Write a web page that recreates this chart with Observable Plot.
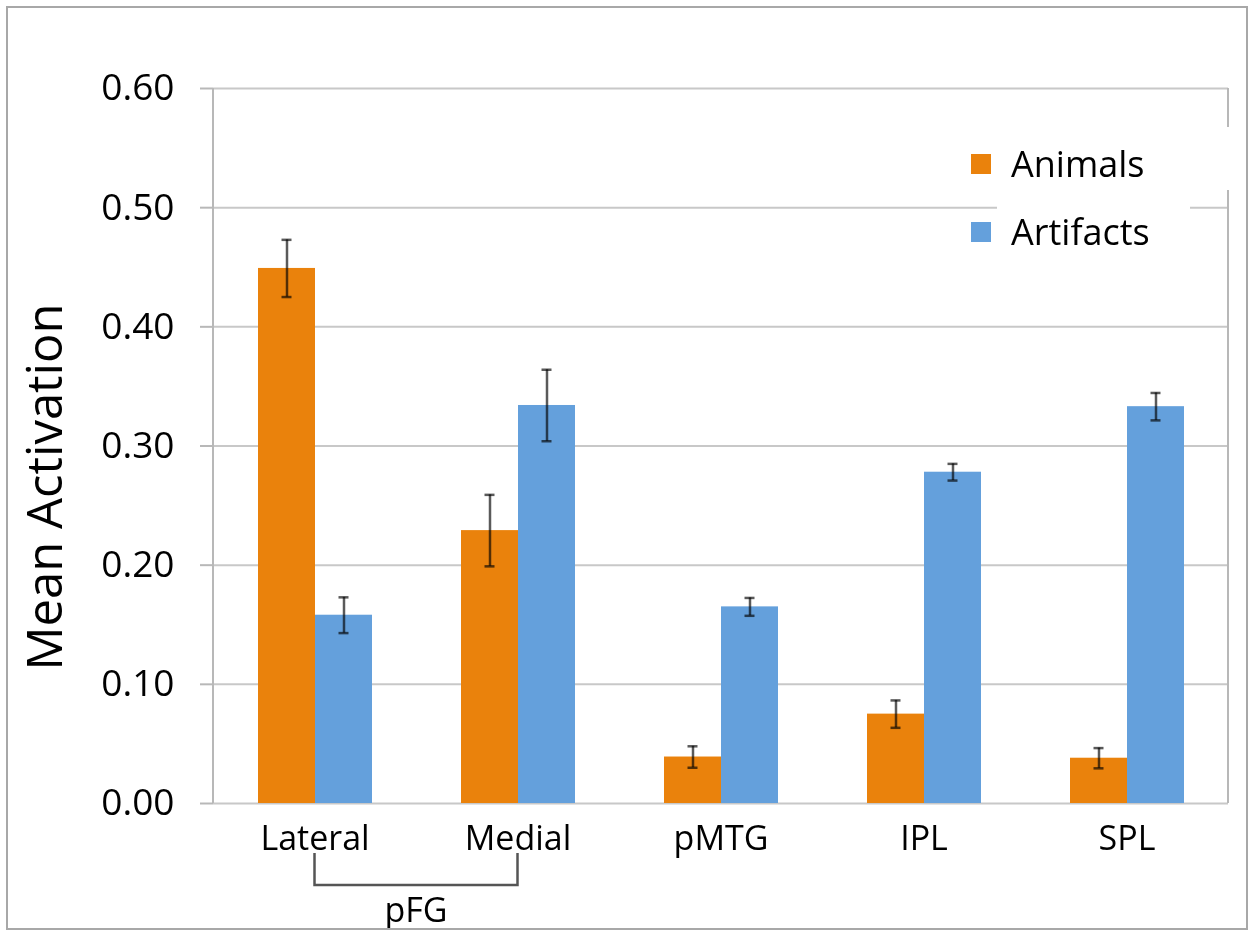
<!DOCTYPE html>
<html>
<head>
<meta charset="utf-8">
<script src="https://cdn.jsdelivr.net/npm/d3@7"></script>
<script src="https://cdn.jsdelivr.net/npm/@observablehq/plot@0.6"></script>
<style>
  html, body { margin: 0; padding: 0; background: #fff; }
  #wrap { position: relative; width: 1253px; height: 939px; font-family: "Open Sans", sans-serif; }
  #outer { position: absolute; left: 6px; top: 6px; width: 1242px; height: 924px; border: 2px solid #a8a8a8; box-sizing: border-box; pointer-events: none; }
  .legend-row { position: absolute; display: flex; align-items: center; font-size: 36px; color: #000; }
  .sw { width: 20px; height: 20px; margin-right: 20px; }
</style>
</head>
<body>
<div id="wrap"></div>
<script>
const categories = ["Lateral", "Medial", "pMTG", "IPL", "SPL"];
const series = ["Animals", "Artifacts"];
const animals = [0.449, 0.229, 0.039, 0.075, 0.038];
const animalsErr = [0.024, 0.030, 0.009, 0.0115, 0.0085];
const artifacts = [0.158, 0.334, 0.165, 0.278, 0.333];
const artifactsErr = [0.015, 0.030, 0.0075, 0.007, 0.0115];
const yTicks = [0, 0.1, 0.2, 0.3, 0.4, 0.5, 0.6];
const colors = ["#EA820C", "#64A0DC"];
const yTitle = "Mean Activation";
const groupLabel = "pFG";
const groupSpan = ["Lateral", "Medial"];

const data = [];
categories.forEach((c, i) => {
  data.push({category: c, series: "Animals", value: animals[i], err: animalsErr[i]});
  data.push({category: c, series: "Artifacts", value: artifacts[i], err: artifactsErr[i]});
});

const errStyle = {stroke: "#5a5a5a", mixBlendMode: "multiply"};

const plot = Plot.plot({
  width: 1253,
  height: 939,
  marginLeft: 213,
  marginRight: 25,
  marginTop: 88,
  marginBottom: 136,
  style: {fontFamily: "'Open Sans', sans-serif", color: "#000", background: "transparent"},
  fx: {domain: categories, padding: 0, label: null},
  x: {domain: series, paddingInner: 0, paddingOuter: 0.765, axis: null},
  y: {domain: [0, 0.6]},
  color: {domain: series, range: colors},
  marks: [
    Plot.ruleY(yTicks, {stroke: "#c8c8c8", strokeWidth: 2}),
    Plot.barY(data, {fx: "category", x: "series", y: "value", fill: "series"}),
    Plot.ruleX(data, {fx: "category", x: "series", y1: d => d.value - d.err, y2: d => d.value + d.err, strokeWidth: 2.5, ...errStyle}),
    Plot.tickY(data, {fx: "category", x: "series", y: d => d.value + d.err, insetLeft: 23.5, insetRight: 23.5, strokeWidth: 2.5, ...errStyle}),
    Plot.tickY(data, {fx: "category", x: "series", y: d => d.value - d.err, insetLeft: 23.5, insetRight: 23.5, strokeWidth: 2.5, ...errStyle}),
    Plot.axisY(yTicks, {tickSize: 13, tickPadding: 26, tickFormat: d3.format(".2f"), fontSize: 37, stroke: "#b8b8b8", strokeWidth: 2, label: null}),
    Plot.axisFx({tickSize: 0, tickPadding: 22, fontSize: 34, label: null, anchor: "bottom"})
  ]
});

const wrap = document.getElementById("wrap");
wrap.appendChild(plot);

const svg = d3.select(plot);
const y = plot.scale("y");
const fx = plot.scale("fx");
const yTop = y.apply(0.6), yBot = y.apply(0);
const left = 213, right = 1253 - 25;
[left, right].forEach(xp => {
  svg.append("line").attr("x1", xp).attr("x2", xp).attr("y1", yTop).attr("y2", yBot)
    .attr("stroke", "#b8b8b8").attr("stroke-width", 2);
});
// white legend background masks (as in the reference)
svg.append("rect").attr("x", right - 4).attr("y", 127).attr("width", 8).attr("height", 63).attr("fill", "#fff");
svg.append("rect").attr("x", 997).attr("y", y.apply(0.5) - 5).attr("width", 193).attr("height", 10).attr("fill", "#fff");

// y-axis title
svg.append("text")
  .attr("transform", `translate(62,487) rotate(-90)`)
  .attr("text-anchor", "middle").attr("font-size", 49).attr("fill", "#000")
  .attr("font-family", "'Open Sans', sans-serif").text(yTitle);

// pFG bracket
const xa = fx.apply(groupSpan[0]) + fx.bandwidth / 2;
const xb = fx.apply(groupSpan[1]) + fx.bandwidth / 2;
svg.append("path")
  .attr("d", `M${xa},853V885H${xb}V853`)
  .attr("fill", "none").attr("stroke", "#555").attr("stroke-width", 2.5);
svg.append("text").attr("x", (xa + xb) / 2).attr("y", 922)
  .attr("text-anchor", "middle").attr("font-size", 34).attr("fill", "#000")
  .attr("font-family", "'Open Sans', sans-serif").text(groupLabel);

// legend
const color = plot.scale("color");
const legendPos = [{top: 139, left: 971}, {top: 207, left: 971}];
series.forEach((s, i) => {
  const row = document.createElement("div");
  row.className = "legend-row";
  row.style.left = legendPos[i].left + "px";
  row.style.top = legendPos[i].top + "px";
  const sw = document.createElement("div");
  sw.className = "sw";
  sw.style.background = color.apply(s);
  row.appendChild(sw);
  const t = document.createElement("span");
  t.textContent = s;
  row.appendChild(t);
  wrap.appendChild(row);
});

const outer = document.createElement("div");
outer.id = "outer";
wrap.appendChild(outer);
</script>
</body>
</html>
